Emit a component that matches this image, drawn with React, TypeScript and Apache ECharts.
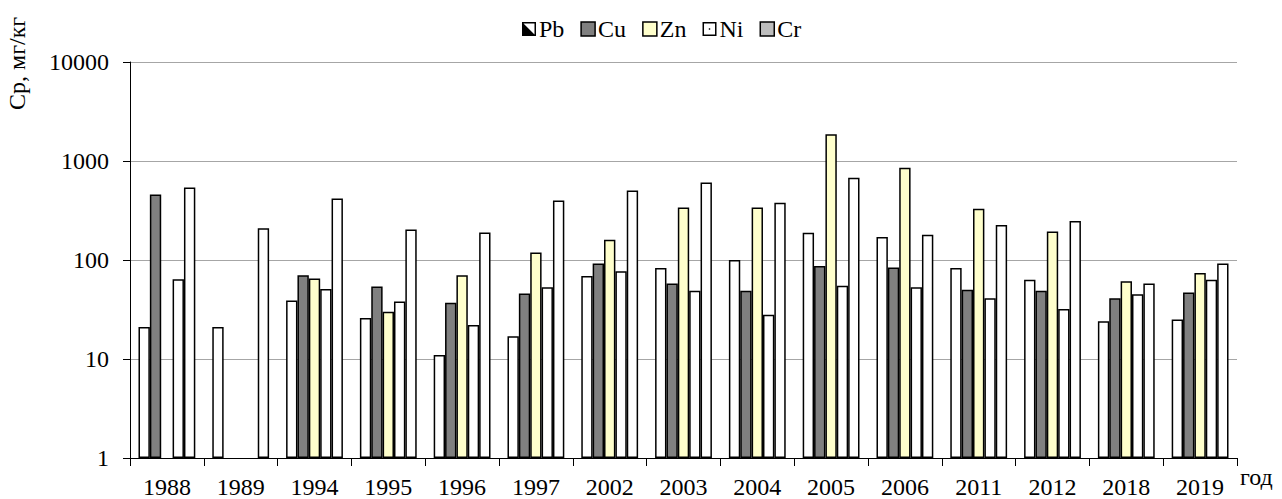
import React, { useEffect, useRef } from "react";
import * as echarts from "echarts";

const years = ["1988", "1989", "1994", "1995", "1996", "1997", "2002", "2003", "2004", "2005", "2006", "2011", "2012", "2018", "2019"];
const pb = [21, 21, 39, 26, 11, 17, 69, 83, 100, 189, 171, 83, 63, 24, 25];
const cu = [459, null, 70, 54, 37, 46, 92, 58, 49, 87, 84, 50, 49, 41, 47];
const zn = [null, null, 65, 30, 70, 119, 160, 340, 340, 1860, 853, 330, 194, 61, 74];
const ni = [64, null, 51, 38, 22, 53, 77, 49, 28, 55, 53, 41, 32, 45, 63];
const cr = [540, 209, 419, 203, 190, 400, 504, 606, 379, 676, 180, 226, 248, 58, 92];

const FONT = "'Liberation Serif', 'Times New Roman', serif";
const PB_ICON = "path://M0,0L14,0L14,14L0,14Z M1.5,1.5L1.5,12.5L12.5,12.5L12.5,1.5Z M1.5,1.5L12.5,12.5L1.5,12.5Z";
const NI_ICON = "path://M0,0L14,0L14,14L0,14Z M1.5,1.5L1.5,12.5L12.5,12.5L12.5,1.5Z M6.3,6.3L7.7,6.3L7.7,7.7L6.3,7.7Z";

export default function App() {
  const ref = useRef<HTMLDivElement>(null);
  useEffect(() => {
    if (!ref.current) return;
    const chart = echarts.init(ref.current, null, { renderer: "svg" });
    const mk = (name: string, data: (number | null)[], color: string) => ({
      name,
      type: "bar",
      data,
      barGap: "0%",
      barCategoryGap: "23%",
      itemStyle: { color, borderColor: "#000", borderWidth: 1.5 },
    });
    chart.setOption({
      animation: false,
      textStyle: { fontFamily: FONT },
      legend: {
        top: 12,
        left: 517,
        itemWidth: 14,
        itemHeight: 14,
        itemGap: 16,
        textStyle: { fontFamily: FONT, fontSize: 24, color: "#000", padding: [0, 0, 0, -2] },
        data: [
          { name: "Pb", icon: PB_ICON, itemStyle: { color: "#000", borderWidth: 0 } },
          { name: "Cu", icon: "rect", itemStyle: { color: "#808080", borderColor: "#000", borderWidth: 1.5 } },
          { name: "Zn", icon: "rect", itemStyle: { color: "#ffffcc", borderColor: "#000", borderWidth: 1.5 } },
          { name: "Ni", icon: NI_ICON, itemStyle: { color: "#000", borderWidth: 0 } },
          { name: "Cr", icon: "rect", itemStyle: { color: "#bdbdbd", borderColor: "#000", borderWidth: 1.5 } },
        ],
      },
      grid: { left: 130, right: 45, top: 62, bottom: 39, containLabel: false },
      xAxis: {
        type: "category",
        data: years,
        boundaryGap: true,
        axisLine: { lineStyle: { color: "#000", width: 1 } },
        axisTick: { show: true, length: 8, inside: false, lineStyle: { color: "#000" } },
        axisLabel: { color: "#000", fontSize: 24, fontFamily: FONT, margin: 17 },
        splitLine: { show: false },
      },
      yAxis: {
        type: "log",
        logBase: 10,
        min: 1,
        max: 10000,
        axisLine: { show: true, lineStyle: { color: "#000", width: 1 } },
        axisTick: { show: true, length: 7, inside: false, lineStyle: { color: "#000" } },
        minorTick: { show: false },
        axisLabel: {
          color: "#000",
          fontSize: 24,
          fontFamily: FONT,
          margin: 21,
          formatter: (v: number) => String(Math.round(v)),
        },
        splitLine: { show: true, lineStyle: { color: "#a6a6a6", width: 1 } },
      },
      graphic: [
        {
          type: "text",
          x: 1240,
          y: 477,
          style: { text: "год", fontSize: 24, fontFamily: FONT, fill: "#000", textVerticalAlign: "middle" },
        },
        {
          type: "text",
          x: 17,
          y: 110,
          rotation: Math.PI / 2,
          style: { text: "Ср, мг/кг", fontSize: 24, fontFamily: FONT, fill: "#000", textVerticalAlign: "middle" },
        },
      ],
      series: [
        mk("Pb", pb, "#ffffff"),
        mk("Cu", cu, "#808080"),
        mk("Zn", zn, "#ffffcc"),
        mk("Ni", ni, "#ffffff"),
        mk("Cr", cr, "#ffffff"),
      ],
    });
    return () => chart.dispose();
  }, []);
  return (
    <div
      ref={ref}
      style={{ position: "fixed", left: 0, top: 0, width: 1282, height: 499, background: "#fff" }}
    />
  );
}
